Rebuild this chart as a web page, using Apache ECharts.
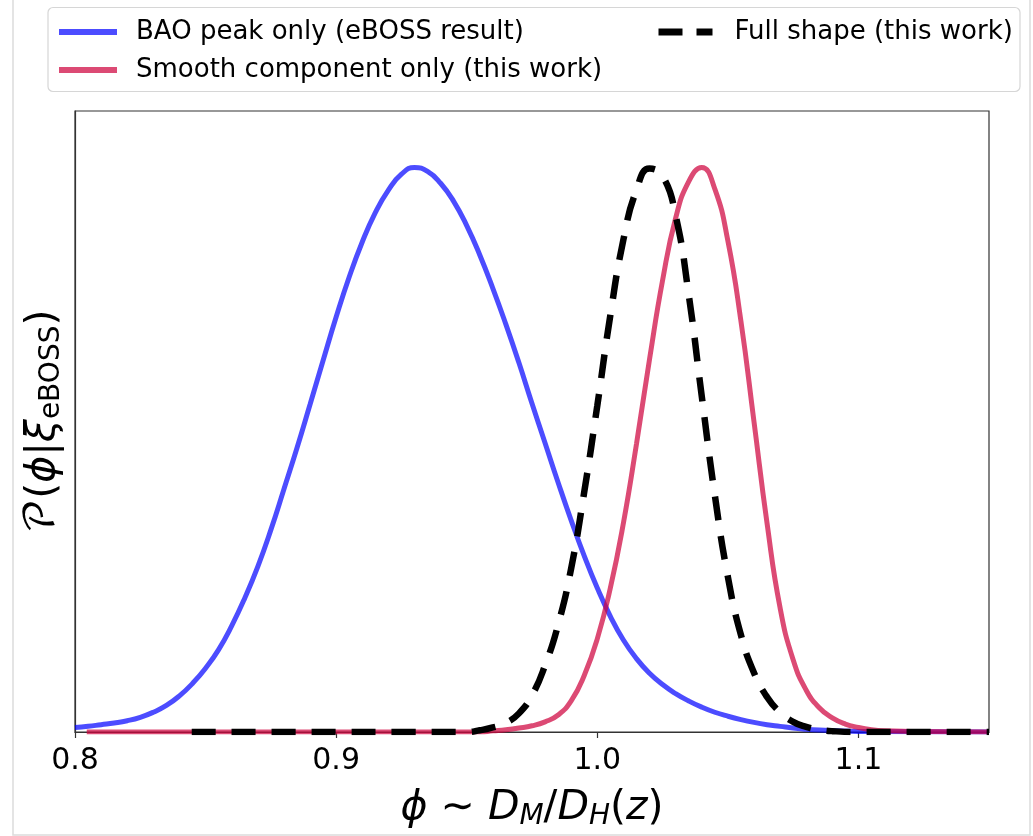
<!DOCTYPE html>
<html>
<head>
<meta charset="utf-8">
<script src="https://cdn.jsdelivr.net/npm/echarts@6/dist/echarts.min.js"></script>
<style>
html,body{margin:0;padding:0;background:#fff;}
#chart{width:1033px;height:836px;}
</style>
</head>
<body>
<div id="chart"></div>
<script>
// ---- data ----
const xTicks = [0.8, 0.9, 1.0, 1.1];
const legendNames = ['BAO peak only (eBOSS result)', 'Smooth component only (this work)', 'Full shape (this work)'];

const phiBAO = [0.800, 0.805, 0.810, 0.815, 0.820, 0.825, 0.830, 0.835, 0.840, 0.845, 0.850, 0.855, 0.860, 0.865, 0.870, 0.875, 0.880, 0.885, 0.890, 0.895, 0.900, 0.905, 0.910, 0.915, 0.920, 0.925, 0.930, 0.935, 0.940, 0.945, 0.950, 0.955, 0.960, 0.965, 0.970, 0.975, 0.980, 0.985, 0.990, 0.995, 1.000, 1.005, 1.010, 1.015, 1.020, 1.025, 1.030, 1.035, 1.040, 1.045, 1.050, 1.055, 1.060, 1.065, 1.070, 1.075, 1.080, 1.085, 1.090, 1.100, 1.150];
const pBAO   = [0.008, 0.010, 0.013, 0.016, 0.020, 0.026, 0.035, 0.047, 0.064, 0.086, 0.113, 0.146, 0.188, 0.237, 0.293, 0.358, 0.430, 0.503, 0.580, 0.658, 0.735, 0.806, 0.868, 0.920, 0.960, 0.988, 1.000, 0.993, 0.972, 0.940, 0.897, 0.845, 0.786, 0.722, 0.654, 0.582, 0.512, 0.442, 0.375, 0.312, 0.255, 0.205, 0.163, 0.130, 0.104, 0.084, 0.068, 0.055, 0.044, 0.035, 0.028, 0.022, 0.017, 0.013, 0.010, 0.007, 0.005, 0.0035, 0.0025, 0.001, 0.000];

const phiSmooth = [0.8045, 0.955, 0.960, 0.965, 0.970, 0.975, 0.980, 0.985, 0.990, 0.995, 1.000, 1.005, 1.010, 1.015, 1.020, 1.025, 1.030, 1.035, 1.040, 1.045, 1.050, 1.055, 1.060, 1.065, 1.070, 1.075, 1.080, 1.085, 1.090, 1.095, 1.100, 1.105, 1.110, 1.120, 1.150];
const pSmooth   = [0.000, 0.000, 0.002, 0.004, 0.007, 0.011, 0.018, 0.030, 0.055, 0.100, 0.165, 0.255, 0.370, 0.510, 0.660, 0.800, 0.910, 0.975, 1.000, 0.962, 0.870, 0.728, 0.550, 0.370, 0.220, 0.128, 0.074, 0.043, 0.025, 0.014, 0.008, 0.004, 0.002, 0.001, 0.000];

const phiFull = [0.8447, 0.950, 0.955, 0.960, 0.965, 0.970, 0.975, 0.980, 0.985, 0.990, 0.995, 1.000, 1.005, 1.010, 1.015, 1.020, 1.025, 1.030, 1.035, 1.040, 1.045, 1.050, 1.055, 1.060, 1.065, 1.070, 1.075, 1.080, 1.085, 1.090, 1.100, 1.150];
const pFull   = [0.000, 0.000, 0.003, 0.008, 0.016, 0.033, 0.065, 0.118, 0.190, 0.290, 0.425, 0.578, 0.738, 0.872, 0.960, 0.998, 0.985, 0.915, 0.775, 0.595, 0.420, 0.275, 0.172, 0.105, 0.062, 0.035, 0.018, 0.009, 0.004, 0.0015, 0.000, 0.000];

const pairs = (xs, ys) => xs.map((x, i) => [x, ys[i]]);

const FONT = "'DejaVu Sans', 'DejaVu Math TeX Gyre', sans-serif";
const chart = echarts.init(document.getElementById('chart'), null, {renderer: 'canvas'});

const nameRich = {
  m: {fontFamily: FONT, fontSize: 41, color: '#000'},
  i: {fontFamily: FONT, fontSize: 41, fontStyle: 'italic', color: '#000'},
  si: {fontFamily: FONT, fontSize: 28, fontStyle: 'italic', color: '#000', padding: [18, 0, 0, 0]},
  s: {fontFamily: FONT, fontSize: 28, color: '#000', padding: [18, 0, 0, 0]}
};

chart.setOption({
  backgroundColor: '#ffffff',
  animation: false,
  grid: {left: 75, right: 44, top: 111, bottom: 103, show: true, borderColor: '#333', borderWidth: 1.2, backgroundColor: 'transparent'},
  legend: [
    {
      data: [legendNames[0], legendNames[1]],
      orient: 'vertical', left: 56, top: 17, padding: 0,
      itemWidth: 58, itemHeight: 14, itemGap: 8,
      itemStyle: {opacity: 0},
      lineStyle: {width: 6},
      textStyle: {fontFamily: FONT, fontSize: 26, color: '#000', lineHeight: 30, padding: [0, 0, 0, 14]}
    },
    {
      data: [legendNames[2]],
      orient: 'vertical', left: 655, top: 17, padding: 0,
      itemWidth: 54, itemHeight: 14, itemGap: 8,
      itemStyle: {opacity: 0},
      lineStyle: {width: 7, type: [24, 14], cap: 'butt'},
      textStyle: {fontFamily: FONT, fontSize: 26, color: '#000', lineHeight: 30, padding: [0, 0, 0, 17]}
    }
  ],
  graphic: [
    {type: 'rect', shape: {x: 48, y: 7.5, width: 972, height: 84, r: 5}, style: {fill: 'rgba(255,255,255,0.8)', stroke: '#d6d6d6', lineWidth: 1.2}, z: -1},
    {type: 'rect', shape: {x: 13, y: -5, width: 1017, height: 840}, style: {fill: 'none', stroke: '#dcdcdc', lineWidth: 1.5}, silent: true}
  ],
  xAxis: {
    type: 'value', min: 0.8, max: 1.15, interval: 0.1,
    axisLine: {show: true, lineStyle: {color: '#333', width: 1.2}},
    axisTick: {show: true, length: 6, lineStyle: {color: '#333', width: 1.2}},
    splitLine: {show: false},
    axisLabel: {
      showMaxLabel: false, margin: 14,
      fontFamily: FONT, fontSize: 30, color: '#000',
      formatter: v => (xTicks.some(t => Math.abs(t - v) < 1e-6) ? v.toFixed(1) : '')
    },
    name: '{i|ϕ}{m| ∼ }{i|D}{si|M}{m|/}{i|D}{si|H}{m|(}{i|z}{m|)}',
    nameLocation: 'middle', nameGap: 53,
    nameTextStyle: {rich: nameRich}
  },
  yAxis: {
    type: 'value', min: 0, max: 1.1,
    axisLine: {show: true, lineStyle: {color: '#333', width: 1.2}},
    axisTick: {show: false}, axisLabel: {show: false}, splitLine: {show: false},
    name: '{m|𝒫(}{i|ϕ}{m||}{i|ξ}{s|eBOSS}{m|)}',
    nameLocation: 'middle', nameRotate: 90, nameGap: 9,
    nameTextStyle: {rich: nameRich}
  },
  series: [
    {
      name: legendNames[0], type: 'line', data: pairs(phiBAO, pBAO),
      showSymbol: false, symbol: 'none', smooth: 0.5, clip: true, z: 2,
      lineStyle: {color: '#0000ff', opacity: 0.7, width: 5},
      itemStyle: {color: 'rgba(0,0,255,0.7)'}
    },
    {
      name: legendNames[1], type: 'line', data: pairs(phiSmooth, pSmooth),
      showSymbol: false, symbol: 'none', smooth: 0.5, clip: true, z: 3,
      lineStyle: {color: '#ce043e', opacity: 0.72, width: 5},
      itemStyle: {color: 'rgba(206,4,62,0.72)'}
    },
    {
      name: legendNames[2], type: 'line', data: pairs(phiFull, pFull),
      showSymbol: false, symbol: 'none', smooth: 0.5, clip: true, z: 4,
      lineStyle: {color: '#000', width: 6.5, type: [24, 16], cap: 'butt'},
      itemStyle: {color: '#000'}
    }
  ]
});
</script>
</body>
</html>
